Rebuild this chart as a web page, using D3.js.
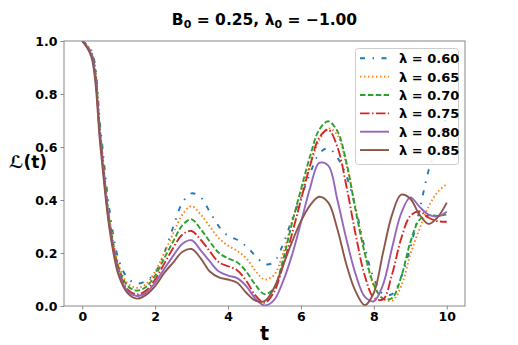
<!DOCTYPE html>
<html>
<head>
<meta charset="utf-8">
<script src="https://cdn.jsdelivr.net/npm/d3@7"></script>
<style>
  body { margin: 0; background: #fff; }
  text { font-family: "DejaVu Sans", sans-serif; font-weight: bold; }
</style>
</head>
<body>
<div id="chart"></div>
<script>

// time grid and the six curves
let tVals = [0, 0.25, 0.5, 0.75, 1, 1.25, 1.5, 1.75, 2, 2.25, 2.5, 2.75, 3, 3.25, 3.5, 3.75,
  4, 4.25, 4.5, 4.75, 5, 5.25, 5.5, 5.75, 6, 6.25, 6.5, 6.75, 7, 7.25, 7.5, 7.75,
  8, 8.25, 8.5, 8.75, 9, 9.25, 9.5, 9.75, 10]

let lam060 = [1.0, 0.965, 0.67, 0.36, 0.175, 0.105, 0.085, 0.095, 0.125, 0.2, 0.3, 0.39, 0.425, 0.41, 0.355, 0.3,
  0.265, 0.25, 0.225, 0.19, 0.158, 0.165, 0.23, 0.325, 0.41, 0.5, 0.575, 0.595, 0.56, 0.49, 0.37, 0.22,
  0.105, 0.045, 0.045, 0.11, 0.22, 0.36, 0.51, 0.61, 0.72]
let lam065 = [1.0, 0.96, 0.65, 0.33, 0.155, 0.085, 0.069, 0.082, 0.13, 0.2, 0.275, 0.345, 0.377, 0.345, 0.3, 0.255,
  0.228, 0.208, 0.18, 0.133, 0.1, 0.115, 0.195, 0.315, 0.43, 0.53, 0.625, 0.67, 0.645, 0.53, 0.37, 0.2,
  0.075, 0.028, 0.02, 0.075, 0.195, 0.29, 0.375, 0.43, 0.46]
let lam070 = [1.0, 0.955, 0.64, 0.32, 0.145, 0.075, 0.058, 0.072, 0.115, 0.18, 0.245, 0.305, 0.327, 0.29, 0.243, 0.2,
  0.18, 0.165, 0.13, 0.08, 0.045, 0.065, 0.17, 0.31, 0.44, 0.565, 0.665, 0.697, 0.66, 0.54, 0.36, 0.2,
  0.08, 0.028, 0.03, 0.11, 0.24, 0.325, 0.342, 0.34, 0.345]
let lam075 = [1.0, 0.95, 0.63, 0.31, 0.135, 0.062, 0.044, 0.058, 0.1, 0.16, 0.22, 0.27, 0.283, 0.25, 0.206, 0.165,
  0.15, 0.135, 0.095, 0.04, 0.012, 0.05, 0.148, 0.27, 0.4, 0.53, 0.635, 0.665, 0.6, 0.45, 0.27, 0.115,
  0.031, 0.025, 0.12, 0.255, 0.34, 0.357, 0.333, 0.32, 0.318]
let lam080 = [1.0, 0.95, 0.62, 0.3, 0.125, 0.055, 0.038, 0.05, 0.088, 0.14, 0.19, 0.235, 0.248, 0.21, 0.168, 0.13,
  0.115, 0.105, 0.075, 0.028, 0.002, 0.02, 0.09, 0.19, 0.315, 0.445, 0.54, 0.53, 0.4, 0.25, 0.12, 0.035,
  0.018, 0.08, 0.22, 0.35, 0.41, 0.375, 0.345, 0.338, 0.356]
let lam085 = [1.0, 0.94, 0.6, 0.29, 0.115, 0.048, 0.028, 0.042, 0.075, 0.125, 0.165, 0.205, 0.215, 0.18, 0.13, 0.108,
  0.1, 0.088, 0.05, 0.02, 0.018, 0.065, 0.15, 0.24, 0.32, 0.38, 0.412, 0.39, 0.29, 0.155, 0.055, 0.003,
  0.05, 0.2, 0.345, 0.42, 0.405, 0.345, 0.31, 0.335, 0.39]

let labels = ["0.60", "0.65", "0.70", "0.75", "0.80", "0.85"]
let seriesVals = [lam060, lam065, lam070, lam075, lam080, lam085]
let colors = ["#1f77b4", "#ff7f0e", "#2ca02c", "#d62728", "#9467bd", "#8c564b"]
let dashes = ["5,7.5,1.5,7.5", "1.5,2.5", "5.5,2.4", "9.6,2.4,1.5,2.4", null, null]

let xTicks = [0, 2, 4, 6, 8, 10]
let yTicks = [0.0, 0.2, 0.4, 0.6, 0.8, 1.0]

let W = 518, H = 345
let margin = { top: 41, right: 53, bottom: 39, left: 64 }
let plotW = W - margin.left - margin.right,
  plotH = H - margin.top - margin.bottom

let svg = d3.select("#chart")
  .append("svg")
  .attr("width", W)
  .attr("height", H)

let x = d3.scaleLinear()
  .domain([-0.5, 10.5])
  .range([margin.left, margin.left + plotW])

let y = d3.scaleLinear()
  .domain([0, 1])
  .range([margin.top + plotH, margin.top])

svg.append("clipPath")
  .attr("id", "plotclip")
  .append("rect")
  .attr("x", margin.left)
  .attr("y", margin.top)
  .attr("width", plotW)
  .attr("height", plotH)

let line = d3.line()
  .x((d) => { return x(d[0]) })
  .y((d) => { return y(d[1]) })
  .curve(d3.curveCatmullRom.alpha(0.5))

let plot = svg.append("g").attr("clip-path", "url(#plotclip)")

seriesVals.forEach((vals, i) => {
  plot.append("path")
    .datum(tVals.map((t, j) => [t, vals[j]]))
    .attr("d", line)
    .attr("stroke", colors[i])
    .attr("stroke-dasharray", dashes[i])
    .style("fill", "none")
    .style("stroke-width", 1.9)
})

// axes
svg.append("g")
  .attr("transform", "translate(0," + (margin.top + plotH) + ")")
  .call(d3.axisBottom(x).tickValues(xTicks).tickSize(3.5).tickPadding(3).tickFormat(d3.format("d")))
svg.append("g")
  .attr("transform", "translate(" + margin.left + ",0)")
  .call(d3.axisLeft(y).tickValues(yTicks).tickSize(3.5).tickPadding(3).tickFormat(d3.format(".1f")))

svg.selectAll(".domain").remove()
svg.selectAll(".tick line").attr("stroke", "#888")
svg.selectAll(".tick text")
  .style("font-size", "12.5px")
  .style("font-family", "DejaVu Sans")
  .style("font-weight", "bold")
  .attr("fill", "#000")

// frame
svg.append("rect")
  .attr("x", margin.left)
  .attr("y", margin.top)
  .attr("width", plotW)
  .attr("height", plotH)
  .style("fill", "none")
  .attr("stroke", "#888")
  .style("stroke-width", 1)

// title
let title = svg.append("text")
  .attr("x", margin.left + plotW / 2)
  .attr("y", 25)
  .attr("text-anchor", "middle")
  .style("font-size", "15.5px")
title.append("tspan").text("B")
title.append("tspan").attr("dy", 3).style("font-size", "11px").text("0")
title.append("tspan").attr("dy", -3).text(" = 0.25, λ")
title.append("tspan").attr("dy", 3).style("font-size", "11px").text("0")
title.append("tspan").attr("dy", -3).text(" = −1.00")

// axis labels
svg.append("text")
  .attr("x", margin.left + plotW / 2)
  .attr("y", 340)
  .attr("text-anchor", "middle")
  .style("font-size", "19px")
  .text("t")

svg.append("text")
  .attr("x", 28)
  .attr("y", 168)
  .attr("text-anchor", "middle")
  .style("font-size", "17px")
  .text("ℒ(t)")

// legend
let lg = svg.append("g")
lg.append("rect")
  .attr("x", 355.5)
  .attr("y", 48.5)
  .attr("width", 103)
  .attr("height", 116)
  .attr("rx", 3)
  .style("fill", "#fff")
  .style("fill-opacity", 0.8)
  .attr("stroke", "#ccc")

labels.forEach((lab, i) => {
  let yy = 58.3 + i * 18.35
  lg.append("line")
    .attr("x1", 360)
    .attr("x2", 389)
    .attr("y1", yy)
    .attr("y2", yy)
    .attr("stroke", colors[i])
    .attr("stroke-dasharray", dashes[i])
    .style("stroke-width", 1.9)
  lg.append("text")
    .attr("x", 399)
    .attr("y", yy + 5)
    .style("font-size", "13px")
    .text("λ = " + lab)
})

</script>
</body>
</html>
